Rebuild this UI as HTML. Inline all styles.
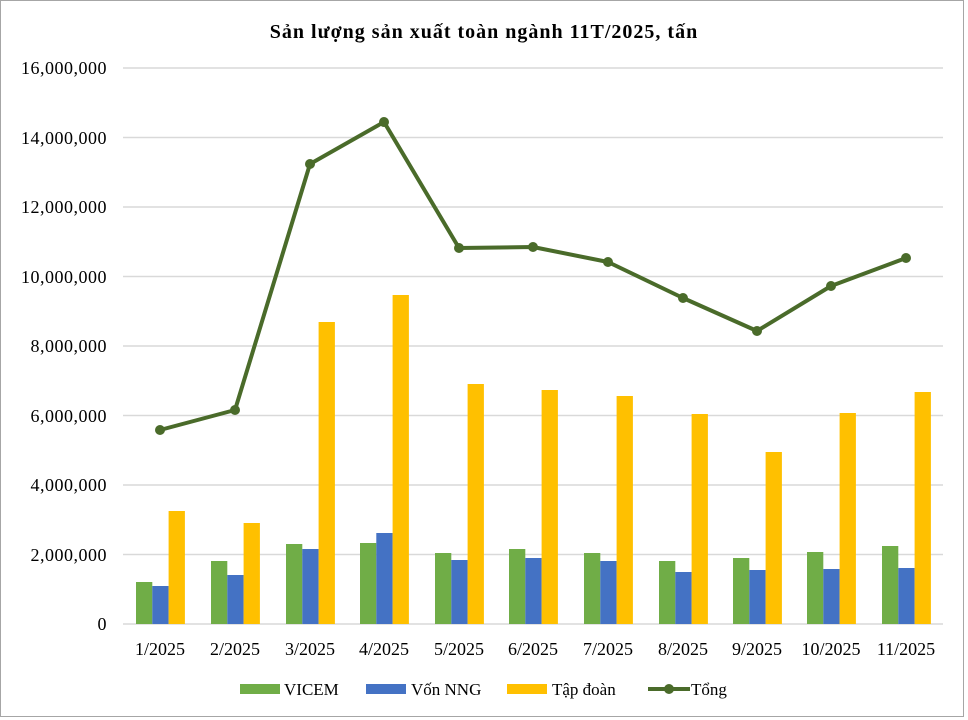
<!DOCTYPE html>
<html><head><meta charset="utf-8"><style>
html,body{margin:0;padding:0;background:#fff;}
svg{display:block;font-family:"Liberation Serif",serif;}
</style></head><body>
<svg width="968" height="720" viewBox="0 0 968 720" xmlns="http://www.w3.org/2000/svg">
<rect x="0.5" y="0.5" width="963" height="716" fill="#fff" stroke="#a6a6a6" stroke-width="1"/>
<text x="484" y="38" text-anchor="middle" font-size="20" font-weight="bold" letter-spacing="1" fill="#000">Sản lượng sản xuất toàn ngành 11T/2025, tấn</text>
<g stroke="#d9d9d9" stroke-width="1.5">
<line x1="123" y1="68" x2="943" y2="68"/>
<line x1="123" y1="137.5" x2="943" y2="137.5"/>
<line x1="123" y1="207" x2="943" y2="207"/>
<line x1="123" y1="276.5" x2="943" y2="276.5"/>
<line x1="123" y1="346" x2="943" y2="346"/>
<line x1="123" y1="415.5" x2="943" y2="415.5"/>
<line x1="123" y1="485" x2="943" y2="485"/>
<line x1="123" y1="554.5" x2="943" y2="554.5"/>
<line x1="123" y1="624" x2="943" y2="624"/>
</g>
<g font-size="18" letter-spacing="0.5" text-anchor="end" fill="#000">
<text x="107" y="74">16,000,000</text>
<text x="107" y="144">14,000,000</text>
<text x="107" y="213">12,000,000</text>
<text x="107" y="283">10,000,000</text>
<text x="107" y="352">8,000,000</text>
<text x="107" y="422">6,000,000</text>
<text x="107" y="491">4,000,000</text>
<text x="107" y="561">2,000,000</text>
<text x="107" y="630">0</text>
</g>
<g fill="#70ad47">
<rect x="136" y="582" width="16.3" height="42"/>
<rect x="211" y="561" width="16.3" height="63"/>
<rect x="286" y="544" width="16.3" height="80"/>
<rect x="360" y="543" width="16.3" height="81"/>
<rect x="435" y="553" width="16.3" height="71"/>
<rect x="509" y="549" width="16.3" height="75"/>
<rect x="584" y="553" width="16.3" height="71"/>
<rect x="659" y="561" width="16.3" height="63"/>
<rect x="733" y="558" width="16.3" height="66"/>
<rect x="807" y="552" width="16.3" height="72"/>
<rect x="882" y="546" width="16.3" height="78"/>
</g>
<g fill="#4472c4">
<rect x="152.3" y="586" width="16.3" height="38"/>
<rect x="227.3" y="575" width="16.3" height="49"/>
<rect x="302.3" y="549" width="16.3" height="75"/>
<rect x="376.3" y="533" width="16.3" height="91"/>
<rect x="451.3" y="560" width="16.3" height="64"/>
<rect x="525.3" y="558" width="16.3" height="66"/>
<rect x="600.3" y="561" width="16.3" height="63"/>
<rect x="675.3" y="572" width="16.3" height="52"/>
<rect x="749.3" y="570" width="16.3" height="54"/>
<rect x="823.3" y="569" width="16.3" height="55"/>
<rect x="898.3" y="568" width="16.3" height="56"/>
</g>
<g fill="#ffc000">
<rect x="168.6" y="511" width="16.3" height="113"/>
<rect x="243.6" y="523" width="16.3" height="101"/>
<rect x="318.6" y="322" width="16.3" height="302"/>
<rect x="392.6" y="295" width="16.3" height="329"/>
<rect x="467.6" y="384" width="16.3" height="240"/>
<rect x="541.6" y="390" width="16.3" height="234"/>
<rect x="616.6" y="396" width="16.3" height="228"/>
<rect x="691.6" y="414" width="16.3" height="210"/>
<rect x="765.6" y="452" width="16.3" height="172"/>
<rect x="839.6" y="413" width="16.3" height="211"/>
<rect x="914.6" y="392" width="16.3" height="232"/>
</g>
<polyline points="160,430 235,410 310,164 384,122 459,248 533,247 608,262 683,298 757,331 831,286 906,258" fill="none" stroke="#4a6b2a" stroke-width="4" stroke-linejoin="round"/>
<g fill="#4a6b2a">
<circle cx="160" cy="430" r="5"/><circle cx="235" cy="410" r="5"/><circle cx="310" cy="164" r="5"/><circle cx="384" cy="122" r="5"/><circle cx="459" cy="248" r="5"/><circle cx="533" cy="247" r="5"/><circle cx="608" cy="262" r="5"/><circle cx="683" cy="298" r="5"/><circle cx="757" cy="331" r="5"/><circle cx="831" cy="286" r="5"/><circle cx="906" cy="258" r="5"/>
</g>
<g font-size="18" text-anchor="middle" fill="#000">
<text x="160" y="655">1/2025</text><text x="235" y="655">2/2025</text><text x="310" y="655">3/2025</text><text x="384" y="655">4/2025</text><text x="459" y="655">5/2025</text><text x="533" y="655">6/2025</text><text x="608" y="655">7/2025</text><text x="683" y="655">8/2025</text><text x="757" y="655">9/2025</text><text x="831" y="655">10/2025</text><text x="906" y="655">11/2025</text>
</g>
<g>
<rect x="240" y="684" width="40" height="10" fill="#70ad47"/>
<text x="284" y="695" font-size="17">VICEM</text>
<rect x="366" y="684" width="40" height="10" fill="#4472c4"/>
<text x="411" y="695" font-size="17">Vốn NNG</text>
<rect x="507" y="684" width="40" height="10" fill="#ffc000"/>
<text x="552" y="695" font-size="17">Tập đoàn</text>
<line x1="648" y1="689" x2="690" y2="689" stroke="#4a6b2a" stroke-width="4"/>
<circle cx="669" cy="689" r="5" fill="#4a6b2a"/>
<text x="691" y="695" font-size="17">Tổng</text>
</g>
</svg>
</body></html>
